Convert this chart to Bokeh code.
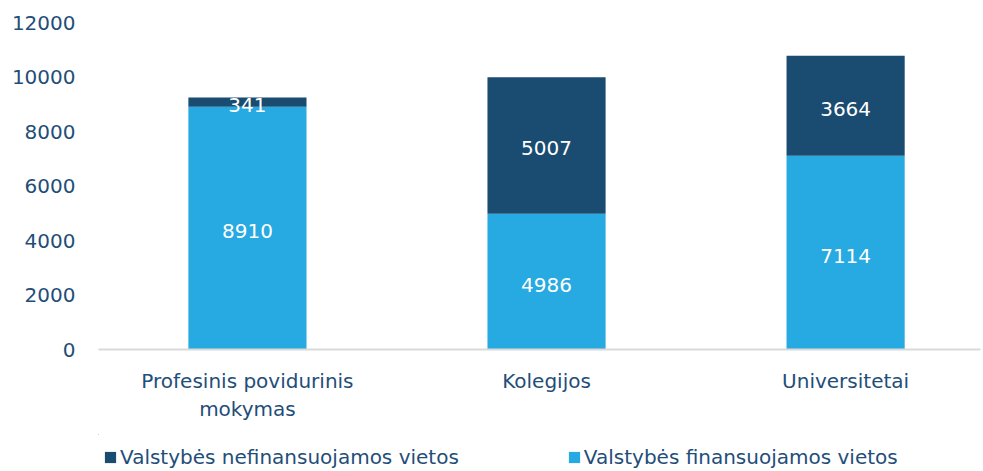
from bokeh.plotting import figure
from bokeh.layouts import column
from bokeh.models import ColumnDataSource, Range1d, FixedTicker, Legend, LegendItem, LabelSet
from bokeh.core.properties import value
from bokeh.embed import file_html
from bokeh.resources import INLINE

categories = ["Profesinis povidurinis\nmokymas", "Kolegijos", "Universitetai"]
financed = [8910, 4986, 7114]
not_financed = [341, 5007, 3664]
series_names = ["Valstybės nefinansuojamos vietos", "Valstybės finansuojamos vietos"]
y_ticks = [0, 2000, 4000, 6000, 8000, 10000, 12000]

FONT = "DejaVu Sans"
FS = "20px"
TEXT = "#1f4e79"
DARK = "#1a4b70"
LIGHT = "#27a9e1"

x = list(range(len(categories)))
src = ColumnDataSource(dict(
    x=x,
    fin=financed,
    nfin=not_financed,
    fin_mid=[f / 2 for f in financed],
    nfin_mid=[f + n / 2 for f, n in zip(financed, not_financed)],
    fin_lbl=[str(v) for v in financed],
    nfin_lbl=[str(v) for v in not_financed],
))

p = figure(frame_width=882, frame_height=335, output_backend="svg", toolbar_location=None,
           x_range=Range1d(-0.498, 2.451), y_range=Range1d(0, 12294),
           min_border_left=98, min_border_right=3, min_border_top=14, min_border_bottom=85)
p.outline_line_color = None
p.xgrid.visible = False
p.ygrid.visible = False
p.background_fill_color = "white"
p.border_fill_color = "white"

r = p.vbar_stack(["fin", "nfin"], x="x", width=0.395, source=src,
                 color=[LIGHT, DARK], line_color=None)

for col, lbl in (("fin_mid", "fin_lbl"), ("nfin_mid", "nfin_lbl")):
    p.add_layout(LabelSet(x="x", y=col, text=lbl, source=src, text_align="center",
                          text_baseline="middle", text_color="white", text_font=value(FONT),
                          text_font_size=FS, y_offset=-3))

p.yaxis.ticker = FixedTicker(ticks=y_ticks)
p.yaxis.axis_line_color = None
p.yaxis.major_tick_line_color = None
p.yaxis.minor_tick_line_color = None
p.yaxis.major_label_text_font = FONT
p.yaxis.major_label_text_font_size = FS
p.yaxis.major_label_text_color = TEXT
p.yaxis.major_label_standoff = 17

p.xaxis.ticker = FixedTicker(ticks=x)
p.xaxis.major_label_overrides = {i: c for i, c in enumerate(categories)}
p.xaxis.axis_line_color = "#d9d9d9"
p.xaxis.axis_line_width = 2
p.xaxis.major_tick_line_color = None
p.xaxis.minor_tick_line_color = None
p.xaxis.major_label_text_font = FONT
p.xaxis.major_label_text_font_size = FS
p.xaxis.major_label_text_color = TEXT
p.xaxis.major_label_standoff = 13

# legend strip below the chart (its glyph renderers lie far outside its visible range)
q = figure(frame_width=983, frame_height=37, output_backend="svg", toolbar_location=None,
           x_range=Range1d(100, 101), y_range=Range1d(-200000, -100000),
           x_axis_type=None, y_axis_type=None,
           min_border_left=0, min_border_right=0, min_border_top=0, min_border_bottom=0)
q.outline_line_color = None
q.background_fill_color = "white"
q.border_fill_color = "white"
g_dark = q.vbar(x="x", top="nfin", width=0.1, source=src, color=DARK, line_color=None)
g_light = q.vbar(x="x", top="fin", width=0.1, source=src, color=LIGHT, line_color=None)

lg = Legend(items=[LegendItem(label=series_names[0], renderers=[g_dark]),
                   LegendItem(label=series_names[1], renderers=[g_light])],
            location=(103, 2), orientation="horizontal", glyph_width=14, glyph_height=14,
            label_standoff=3, padding=0, margin=0, spacing=108, border_line_color=None,
            background_fill_alpha=0, label_text_font=FONT, label_text_font_size=FS,
            label_text_color=TEXT, label_height=20)
q.add_layout(lg, "center")

layout = column(p, q, spacing=0)
open("out.html", "w").write(file_html(layout, INLINE))
